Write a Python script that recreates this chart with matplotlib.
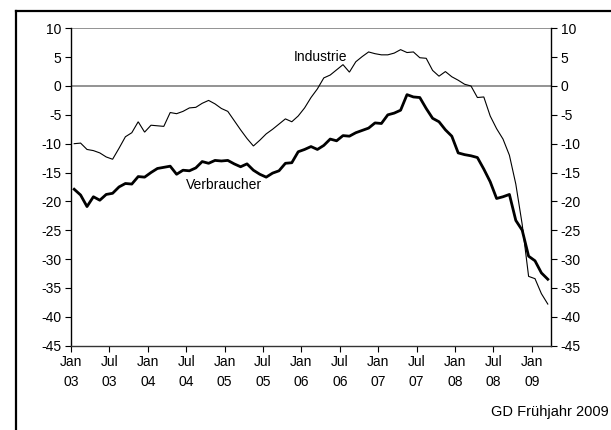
import matplotlib
matplotlib.use("Agg")
import matplotlib.pyplot as plt
from matplotlib.lines import Line2D

plt.rcParams["font.family"] = ["Liberation Sans", "DejaVu Sans"]

# monthly values, Jan 2003 .. Mar 2009
industrie = [
    -10.0, -9.9, -11.0, -11.2, -11.6, -12.3, -12.7, -10.8, -8.8, -8.1,
    -6.2, -8.0, -6.8, -6.9, -7.0, -4.6, -4.8, -4.4, -3.8, -3.7,
    -3.0, -2.5, -3.1, -3.9, -4.4, -6.0, -7.6, -9.1, -10.4, -9.4,
    -8.3, -7.5, -6.6, -5.7, -6.2, -5.2, -3.8, -2.0, -0.5, 1.4,
    1.9, 2.8, 3.7, 2.4, 4.2, 5.1, 5.9, 5.6, 5.4, 5.4,
    5.7, 6.3, 5.8, 5.9, 4.9, 4.8, 2.7, 1.7, 2.5, 1.6,
    1.0, 0.3, 0.0, -2.0, -1.9, -5.2, -7.4, -9.2, -12.0, -17.0,
    -24.0, -33.0, -33.4, -36.0, -37.8,
]
verbraucher = [
    -17.9, -18.9, -20.9, -19.2, -19.8, -18.8, -18.6, -17.5, -16.9, -17.0,
    -15.7, -15.8, -15.0, -14.3, -14.1, -13.9, -15.3, -14.6, -14.7, -14.2,
    -13.1, -13.4, -12.9, -13.0, -12.9, -13.5, -14.0, -13.5, -14.6, -15.3,
    -15.8, -15.1, -14.7, -13.4, -13.3, -11.4, -11.0, -10.5, -11.0, -10.3,
    -9.2, -9.5, -8.6, -8.7, -8.1, -7.7, -7.3, -6.4, -6.5, -5.0,
    -4.7, -4.2, -1.5, -1.9, -2.0, -3.9, -5.6, -6.2, -7.6, -8.7,
    -11.6, -11.9, -12.1, -12.4, -14.4, -16.6, -19.5, -19.2, -18.8, -23.3,
    -25.0, -29.5, -30.3, -32.4, -33.5,
]
tick_labels = ["Jan\n03", "Jul\n03", "Jan\n04", "Jul\n04", "Jan\n05", "Jul\n05",
               "Jan\n06", "Jul\n06", "Jan\n07", "Jul\n07", "Jan\n08", "Jul\n08",
               "Jan\n09"]
y_ticks = list(range(-45, 11, 5))

months = list(range(len(industrie)))

fig = plt.figure(figsize=(6.11, 4.30), dpi=100)
ax = fig.add_axes([71 / 611, 1 - 345.6 / 430, 480 / 611, 317.3 / 430])

ax.plot(months, industrie, color="black", lw=0.8, solid_joinstyle="miter", zorder=3)
ax.plot(months, verbraucher, color="black", lw=2.0, solid_joinstyle="round", zorder=3)

# reference lines (top border and zero line are grey)
ax.axhline(0, color="#808080", lw=1.2, zorder=1)
ax.axhline(10, color="#808080", lw=1.2, zorder=1)

ax.set_xlim(-0.5, 74.5)
ax.set_ylim(-45, 10)
ax.set_xticks([k * 6 - 0.5 for k in range(len(tick_labels))])
ax.set_xticklabels(tick_labels, fontsize=10, linespacing=1.5)
ax.set_yticks(y_ticks)
ax.set_yticklabels([str(v) for v in y_ticks], fontsize=10)
ax.tick_params(axis="y", which="both", left=True, right=True,
               labelleft=True, labelright=True, direction="out",
               length=4, width=0.8, pad=3)
ax.tick_params(axis="x", direction="out", length=4, width=0.8, pad=3)

for side in ("left", "right"):
    ax.spines[side].set_color("black")
    ax.spines[side].set_linewidth(1.0)
ax.spines["bottom"].set_color("#333333")
ax.spines["bottom"].set_linewidth(1.0)
ax.spines["top"].set_visible(False)

ax.text(38.5, 5.1, "Industrie", ha="center", va="center", fontsize=10, zorder=4)
ax.text(23.4, -17.2, "Verbraucher", ha="center", va="center", fontsize=10, zorder=4)

fig.text(0.997, 1 - 412 / 430, "GD Frühjahr 2009", ha="right", va="center",
         fontsize=10.5)

# outer frame, cut off at the right and bottom edges
fx = 15.5 / 611
fy = 1 - 11 / 430
fig.add_artist(Line2D([fx, fx], [0, fy], transform=fig.transFigure,
                      color="black", lw=1.6))
fig.add_artist(Line2D([fx, 1], [fy, fy], transform=fig.transFigure,
                      color="black", lw=1.6))

fig.savefig("out.png", dpi=100)
